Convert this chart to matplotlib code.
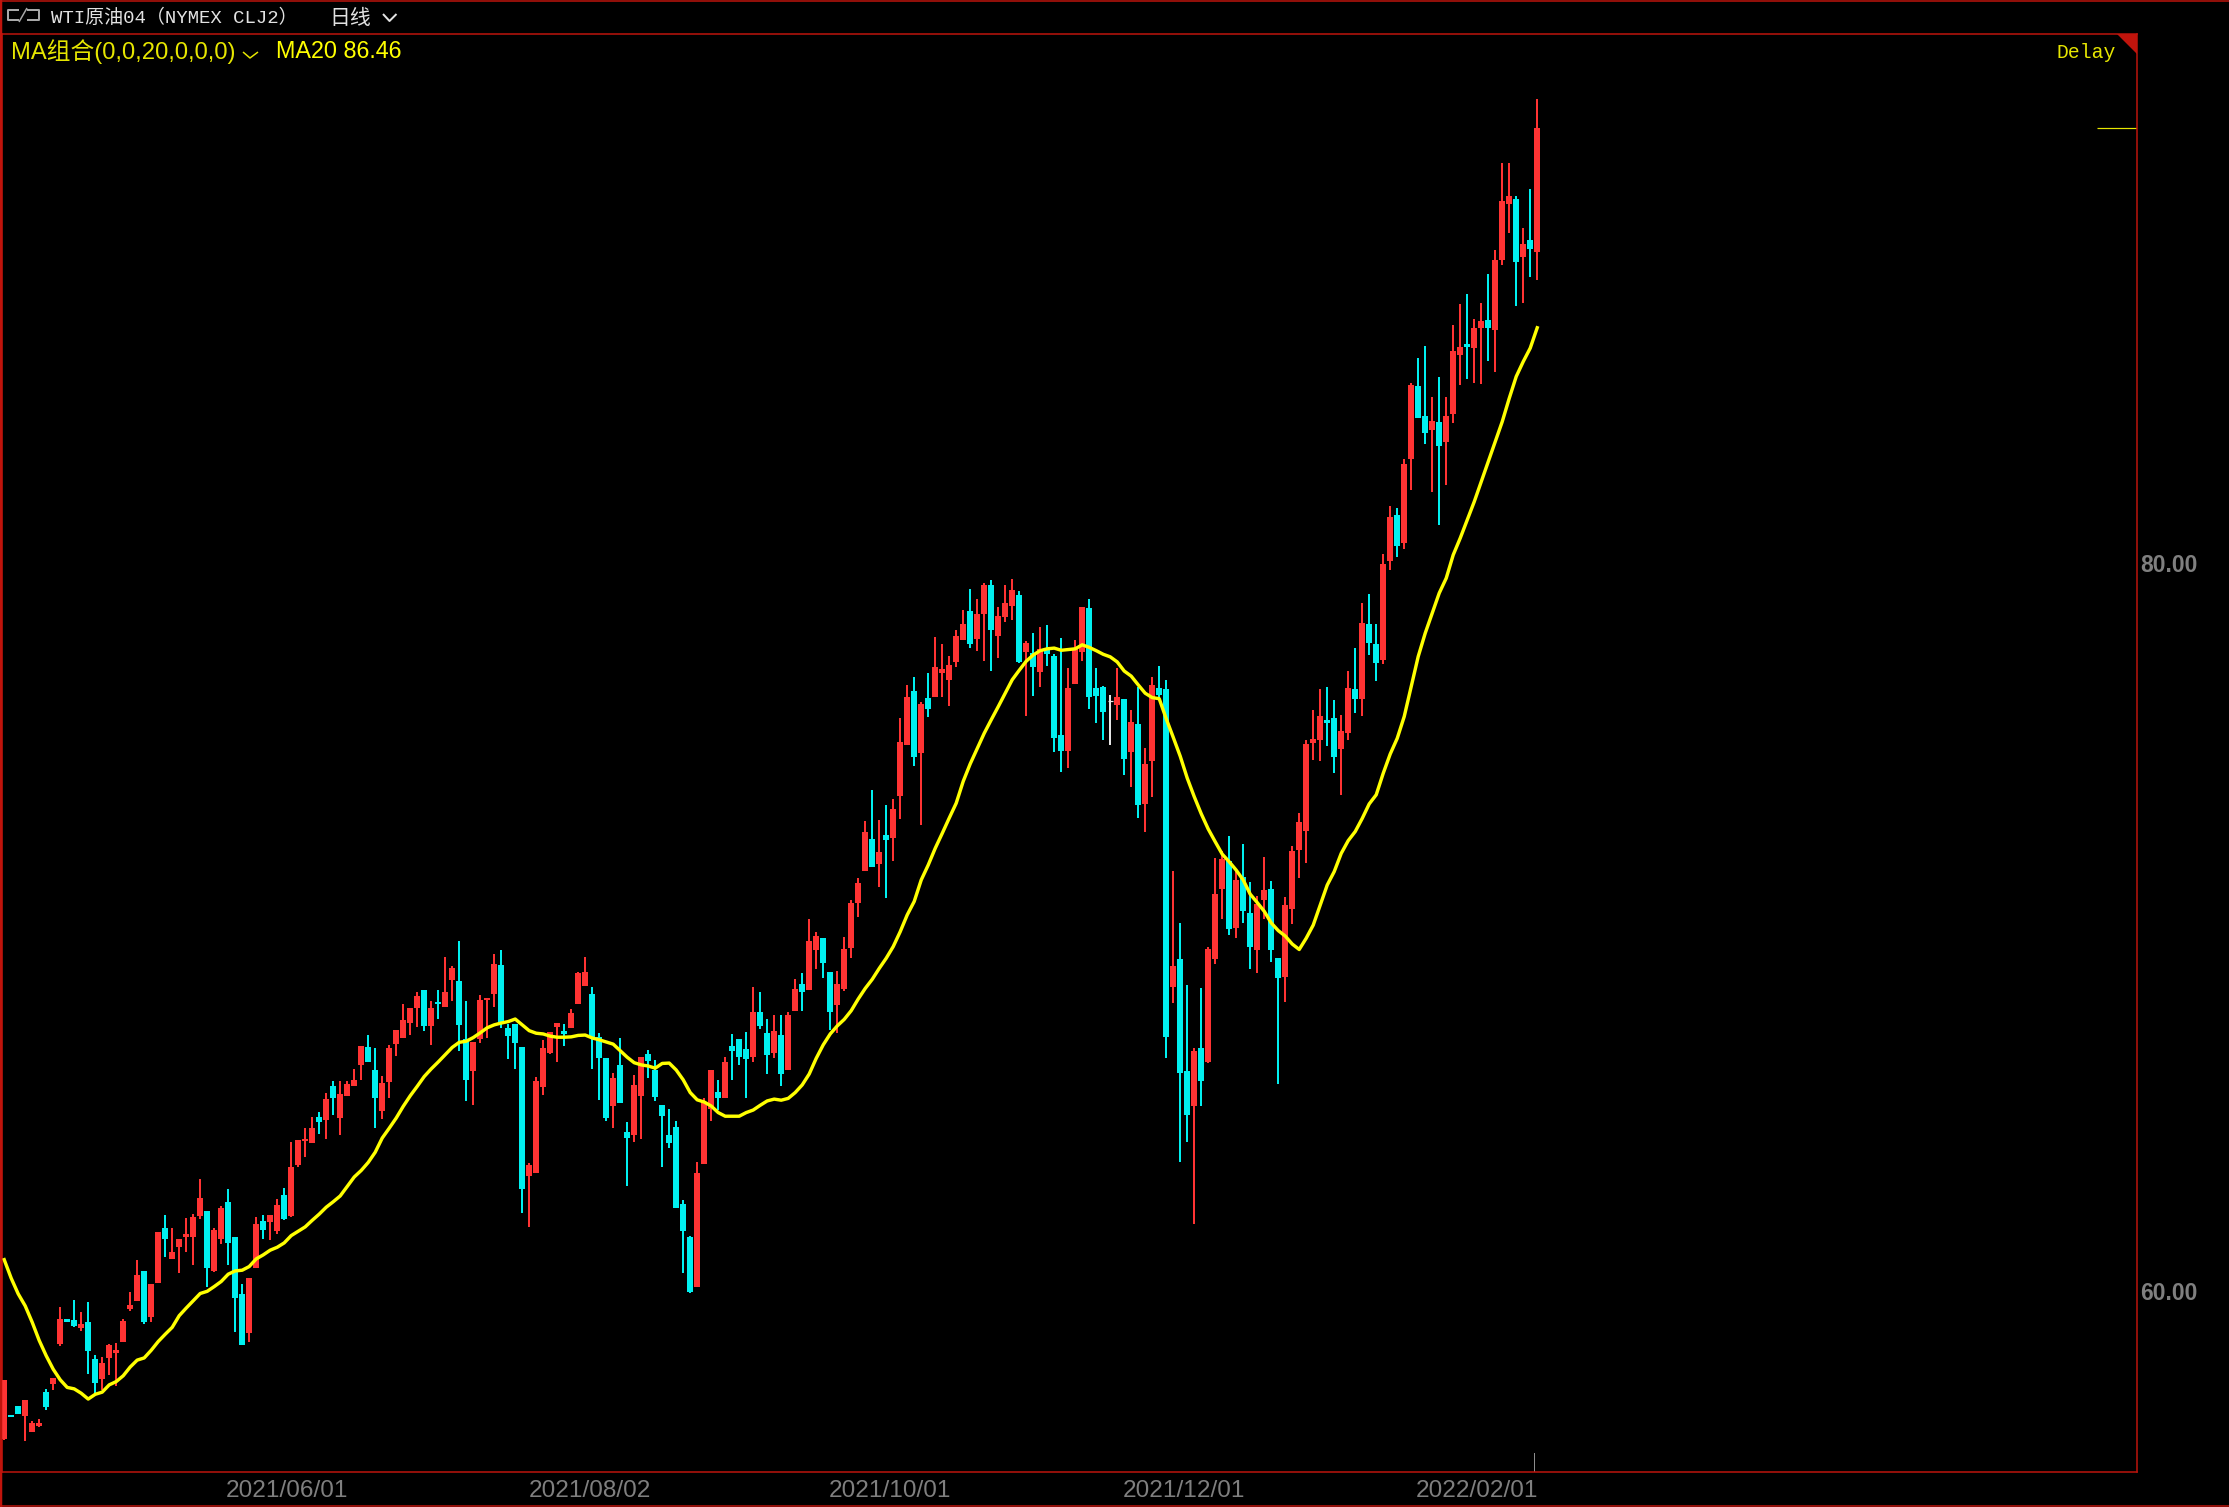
import numpy as np
import matplotlib
matplotlib.use("Agg")
import matplotlib.pyplot as plt
from matplotlib.lines import Line2D
from matplotlib.patches import Polygon

opens = [
55.94,56.60,56.85,56.57,56.13,56.30,57.23,57.45,58.55,59.24,
59.21,58.99,59.15,58.14,57.59,58.16,58.30,58.60,59.51,59.73,
60.55,59.29,60.22,61.74,60.88,61.21,61.49,61.49,62.07,62.20,
60.55,61.43,62.45,61.49,59.92,58.85,60.64,61.93,61.90,61.65,
62.64,62.07,63.47,64.13,64.07,64.79,64.70,65.64,64.76,65.36,
65.64,66.21,66.71,66.08,64.95,65.75,66.79,66.96,67.37,67.77,
68.27,67.28,67.94,67.80,68.54,68.52,66.92,66.04,66.92,68.00,
68.17,68.96,67.23,67.33,66.70,63.16,63.24,65.60,66.54,67.25,
67.14,67.23,67.88,68.38,68.16,66.98,66.40,65.08,66.21,64.37,
64.29,65.36,66.51,66.07,65.11,64.29,64.51,62.39,61.48,60.11,
63.49,65.00,65.47,65.30,66.73,66.92,66.65,66.43,67.66,67.09,
66.54,67.03,66.07,67.69,68.43,68.27,69.37,69.70,68.76,67.86,
68.30,69.42,70.66,71.53,72.41,71.73,72.53,72.45,73.59,75.00,
76.48,74.78,76.30,76.32,76.98,76.79,77.28,77.88,78.68,77.91,
78.60,79.40,78.00,78.51,78.81,79.12,77.55,77.52,77.01,77.63,
77.44,75.27,74.83,76.67,77.56,78.77,76.57,76.59,76.22,76.10,
76.26,74.80,75.58,73.38,74.56,76.57,76.54,68.35,69.12,66.05,
65.08,66.67,66.30,69.12,71.05,71.81,69.97,71.38,70.38,69.37,
70.74,71.05,69.14,68.63,70.50,72.12,72.64,75.05,75.13,75.69,
75.74,74.89,75.33,76.54,76.26,78.32,77.77,77.33,80.05,81.32,
80.55,82.86,84.86,84.04,83.65,83.87,83.32,84.09,85.71,86.02,
85.90,86.45,86.68,86.40,88.32,89.86,90.00,88.41,88.87,88.54,
]
highs = [
57.56,56.60,56.85,57.01,56.43,56.49,57.31,57.61,59.57,59.24,
59.76,59.43,59.70,58.25,58.19,58.55,58.58,59.24,59.98,60.86,
60.55,60.20,61.63,62.09,61.74,61.43,62.01,62.12,63.08,62.20,
61.74,62.34,62.81,61.49,60.20,60.36,62.04,62.09,62.09,62.53,
62.83,64.10,64.15,64.48,64.79,64.92,65.44,65.77,65.77,65.77,
66.10,66.74,67.04,66.68,65.91,66.76,67.18,67.89,67.78,68.21,
68.27,67.97,68.27,69.18,68.93,69.62,67.97,66.84,68.13,68.05,
69.26,69.37,67.33,67.33,66.70,63.52,65.88,66.90,67.11,67.36,
67.33,67.75,68.76,69.18,68.35,67.09,66.40,65.99,66.95,64.64,
65.93,66.43,66.62,66.35,65.11,65.00,64.67,62.50,61.51,63.54,
65.30,66.07,65.80,66.43,67.06,66.92,67.11,68.35,68.21,67.47,
67.58,67.58,67.66,68.57,68.74,70.22,69.86,69.70,68.76,68.79,
69.73,70.74,71.35,72.90,73.76,72.93,73.35,73.52,75.74,76.65,
76.86,76.18,76.98,77.97,77.78,77.44,78.16,78.70,79.27,79.01,
79.44,79.53,78.79,79.40,79.55,79.23,77.86,78.07,78.24,78.29,
77.49,77.93,77.11,77.88,78.79,79.01,77.11,76.62,76.37,77.11,
76.26,75.96,76.58,74.92,76.86,77.17,76.79,71.53,70.10,68.40,
66.67,68.32,69.46,71.90,72.09,72.49,71.58,72.27,71.24,70.84,
71.92,71.25,69.14,70.83,72.23,73.12,75.13,75.97,76.53,76.59,
76.24,75.83,77.04,77.66,78.90,79.15,78.32,80.25,81.57,81.51,
82.86,84.94,85.63,85.96,84.56,85.11,84.56,86.54,87.12,87.39,
86.70,87.14,87.94,88.60,90.99,90.99,90.08,89.20,90.27,92.75,
]
lows = [
55.91,56.55,56.63,55.89,56.13,56.27,56.74,57.29,58.49,59.15,
59.02,58.91,57.72,57.18,57.29,57.70,57.39,58.60,59.46,59.73,
59.10,59.15,60.22,60.94,60.88,60.50,61.08,60.72,61.98,60.11,
60.53,61.30,60.72,58.88,58.52,58.60,60.64,61.43,61.41,61.57,
61.96,62.04,63.41,63.69,64.07,64.32,64.18,64.84,64.29,65.36,
65.64,65.80,66.30,64.48,64.73,65.31,66.46,66.96,67.04,67.25,
67.14,66.76,67.47,67.80,67.97,66.59,65.22,65.11,66.81,66.95,
67.80,67.23,66.37,66.10,62.14,61.76,63.24,65.38,66.51,66.29,
66.73,67.23,67.88,68.38,66.10,65.25,64.67,64.48,65.17,62.88,
64.09,64.18,65.85,65.22,63.41,63.93,62.28,60.49,59.94,60.11,
63.49,64.67,64.97,65.30,65.80,66.21,65.30,66.29,67.20,65.96,
66.40,65.63,66.07,67.69,67.69,68.27,68.85,68.60,67.17,67.09,
68.24,69.15,70.27,71.53,71.65,71.11,70.80,71.80,72.97,75.00,
74.42,72.80,75.77,76.32,76.32,76.07,77.13,77.88,77.66,77.57,
77.31,77.02,77.39,78.37,78.43,77.24,75.80,76.35,76.59,77.17,
74.80,74.26,74.37,76.67,77.30,75.99,75.60,75.14,75.00,75.68,
74.17,73.85,72.99,72.60,73.57,76.26,66.40,67.90,63.54,64.10,
61.84,65.08,66.26,68.98,70.21,69.78,69.70,70.11,68.85,68.73,
70.21,69.04,65.68,67.94,70.08,71.34,71.76,74.59,74.56,74.97,
74.23,73.63,75.13,75.87,75.79,77.47,76.76,77.22,79.81,80.16,
80.38,82.00,83.98,83.27,81.95,81.04,82.14,83.85,84.89,85.05,
84.94,84.92,85.55,85.25,88.19,89.07,87.06,87.14,87.86,87.77,
]
closes = [
57.56,56.55,56.63,57.01,56.38,56.38,56.82,57.61,59.24,59.15,
59.04,59.10,58.36,57.48,58.03,58.52,58.38,59.18,59.62,60.44,
59.15,60.20,61.63,61.43,61.08,61.43,61.57,62.04,62.56,60.64,
61.68,62.29,61.32,59.81,58.52,60.36,61.85,61.68,62.09,62.37,
61.98,63.41,64.15,64.18,64.48,64.65,65.28,65.31,65.42,65.69,
65.80,66.74,66.30,65.31,65.72,66.68,67.18,67.45,67.78,68.10,
67.28,67.77,67.88,68.21,68.87,67.31,65.80,66.84,68.00,68.05,
68.98,67.39,67.00,66.81,62.80,63.46,65.77,66.68,67.11,67.36,
67.06,67.64,68.74,68.76,66.97,66.40,64.75,65.85,65.17,64.20,
65.66,66.43,66.32,65.33,64.81,64.07,62.28,61.65,59.97,63.24,
65.19,66.07,65.30,66.29,66.59,66.43,66.37,67.66,67.28,66.48,
67.14,65.96,67.58,68.30,68.21,69.62,69.75,69.01,67.66,68.43,
69.40,70.66,71.21,72.60,71.65,72.06,72.38,73.24,75.09,76.32,
74.67,76.13,75.99,77.15,77.08,77.20,78.00,78.32,77.78,78.60,
79.40,78.16,78.55,78.90,79.26,77.27,77.80,77.15,77.63,77.50,
75.19,74.83,76.57,77.63,78.79,76.32,76.35,75.91,76.22,76.32,
74.61,75.63,73.35,74.48,76.65,76.38,66.98,68.92,65.98,64.84,
66.59,65.77,69.39,70.91,71.87,69.94,71.30,70.44,69.45,70.64,
71.01,69.37,68.60,70.60,72.09,72.88,75.03,75.17,75.79,75.60,
74.67,75.38,76.57,76.26,78.35,77.81,77.25,79.97,81.26,80.47,
82.72,84.89,83.98,83.57,83.90,83.21,84.04,85.82,85.93,85.93,
86.45,86.65,86.45,88.32,89.94,90.08,88.27,88.76,88.63,91.95,
]
ma20 = [
60.86,60.35,59.92,59.59,59.14,58.64,58.22,57.85,57.56,57.35,
57.31,57.19,57.03,57.16,57.22,57.42,57.51,57.67,57.91,58.10,
58.16,58.37,58.61,58.81,59.00,59.32,59.53,59.73,59.93,59.99,
60.12,60.26,60.46,60.55,60.57,60.67,60.88,60.99,61.12,61.20,
61.32,61.52,61.64,61.76,61.94,62.11,62.30,62.45,62.61,62.87,
63.13,63.31,63.53,63.81,64.20,64.47,64.75,65.07,65.36,65.62,
65.89,66.10,66.29,66.49,66.69,66.83,66.86,66.96,67.09,67.23,
67.31,67.36,67.40,67.47,67.31,67.15,67.08,67.06,67.00,66.97,
66.97,66.98,67.02,67.03,66.95,66.90,66.84,66.78,66.60,66.42,
66.27,66.21,66.18,66.12,66.25,66.26,66.07,65.80,65.45,65.25,
65.19,65.08,64.90,64.80,64.80,64.80,64.90,64.97,65.10,65.22,
65.27,65.24,65.29,65.45,65.66,65.96,66.39,66.76,67.06,67.28,
67.46,67.70,68.02,68.31,68.56,68.86,69.14,69.46,69.87,70.33,
70.70,71.29,71.70,72.16,72.57,72.99,73.40,74.00,74.48,74.90,
75.32,75.69,76.05,76.42,76.79,77.05,77.30,77.47,77.59,77.64,
77.66,77.60,77.62,77.64,77.75,77.68,77.59,77.49,77.42,77.28,
77.03,76.89,76.65,76.42,76.30,76.27,75.72,75.21,74.69,74.09,
73.58,73.11,72.69,72.34,72.00,71.79,71.56,71.29,70.90,70.67,
70.43,70.11,69.90,69.75,69.53,69.38,69.69,70.05,70.60,71.15,
71.52,72.02,72.37,72.62,72.98,73.38,73.63,74.22,74.75,75.18,
75.78,76.60,77.43,78.07,78.62,79.17,79.58,80.22,80.68,81.18,
81.68,82.23,82.78,83.33,83.88,84.52,85.12,85.53,85.90,86.46,
]
date_ticks = [49.15, 92.45, 135.25, 177.25, 219.15]
date_labels = ["2021/06/01", "2021/08/02", "2021/10/01", "2021/12/01", "2022/02/01"]
price_ticks = [60, 80]
price_labels = ["60.00", "80.00"]

W, H = 2229, 1507
RED, CYAN, DOJI = "#ff3333", "#00f0f0", "#e6e6e6"
FRAME = "#c0140c"
YELLOW = "#ffff00"
DIMY = "#e6e600"
GRAY = "#7f7f7f"
MONO = ["Liberation Mono", "Noto Sans CJK SC"]
SANS = ["Liberation Sans", "Noto Sans CJK SC"]

fig = plt.figure(figsize=(W / 100, H / 100), dpi=100, facecolor="black")
ax = fig.add_axes([2 / W, 1 - 1471.5 / H, (2136.5 - 2) / W, (1471.5 - 34) / H], facecolor="black")
ax.set_xlim(-0.314, 304.61)
ax.set_ylim(55.04, 94.53)

o, h, l, c = map(np.array, (opens, highs, lows, closes))
x = np.arange(len(o))
cols = [DOJI if a == b else (RED if b > a else CYAN) for a, b in zip(o, c)]
px = 72 / 100
ax.vlines(x, l, h, colors=cols, linewidth=1.5 * px, antialiased=False, zorder=2)
bottoms = np.minimum(o, c)
heights = np.maximum(np.abs(c - o), 0.03)
ax.bar(x, heights, bottom=bottoms, width=0.78, color=[("none" if k == DOJI else k) for k in cols],
       linewidth=0, antialiased=True, zorder=3)
doji = [i for i, k in enumerate(cols) if k == DOJI]
ax.hlines(o[doji], x[doji] - 0.36, x[doji] + 0.36, colors=DOJI, linewidth=1.2 * px, zorder=3)
ax.plot(x, ma20, color=YELLOW, linewidth=3.4 * px, zorder=4, solid_joinstyle="round")

# last-price marker at the right edge of the plot
ax.hlines(closes[-1], 299, 304.61, colors=DIMY, linewidth=1.2 * px, zorder=2)
# tick mark for the last date
ax.plot([218.6, 218.6], [0, 19 / 1437.5], transform=ax.get_xaxis_transform(),
        color="#8c8c8c", linewidth=1 * px, zorder=2)

for s in ax.spines.values():
    s.set_color(FRAME)
    s.set_linewidth(1.5 * px)
ax.set_xticks(date_ticks)
ax.set_xticklabels(date_labels, ha="right", color=GRAY, fontsize=17.6, family=SANS)
ax.set_yticks(price_ticks)
ax.set_yticklabels(price_labels, color=GRAY, fontsize=16.5, family=SANS, fontweight="bold")
ax.yaxis.tick_right()
ax.tick_params(axis="both", length=0, pad=2.5)
ax.tick_params(axis="x", pad=6)


def fx(v):
    return v / W


def fy(v):
    return 1 - v / H


def seg(xs, ys, color, lw=1.5):
    fig.add_artist(Line2D([fx(a) for a in xs], [fy(b) for b in ys], color=color,
                          linewidth=lw * px, solid_capstyle="butt"))


# window frame
seg([0, W], [1, 1], FRAME, 1.5)
seg([1, 1], [0, H], FRAME, 2.5)
seg([0, W], [1506, 1506], FRAME, 1.5)

# header
fig.text(fx(51), fy(18), "WTI原油04（NYMEX CLJ2）", color="#e2e2e2", fontsize=13.7, family=MONO, va="center")
fig.text(fx(329), fy(18), "日线", color="#e2e2e2", fontsize=15, family=MONO, va="center")
seg([383, 389.5, 396.5], [14, 21, 14], "#e2e2e2", 2)
# link icon
seg([19, 8, 8, 19], [10, 10, 20, 20], "#a8a8a8", 2)
seg([27, 39, 39, 27], [10, 10, 20, 20], "#a8a8a8", 2)
seg([19, 27], [22, 8], "#a8a8a8", 1.5)

fig.text(fx(11), fy(52), "MA组合(0,0,20,0,0,0)", color=DIMY, fontsize=17.1, family=SANS, va="center")
seg([243, 250, 258], [52, 58, 52], DIMY, 1.5)
fig.text(fx(276), fy(52), "MA20 86.46", color=YELLOW, fontsize=16.8, family=SANS, va="center")
fig.text(fx(2056), fy(53), "Delay", color=DIMY, fontsize=14.2, family=MONO, va="center")
fig.add_artist(Polygon([(fx(2117), fy(34)), (fx(2137), fy(34)), (fx(2137), fy(54))],
                       closed=True, facecolor=FRAME, edgecolor="none", transform=fig.transFigure))

fig.savefig("out.png", dpi=100, facecolor="black")
